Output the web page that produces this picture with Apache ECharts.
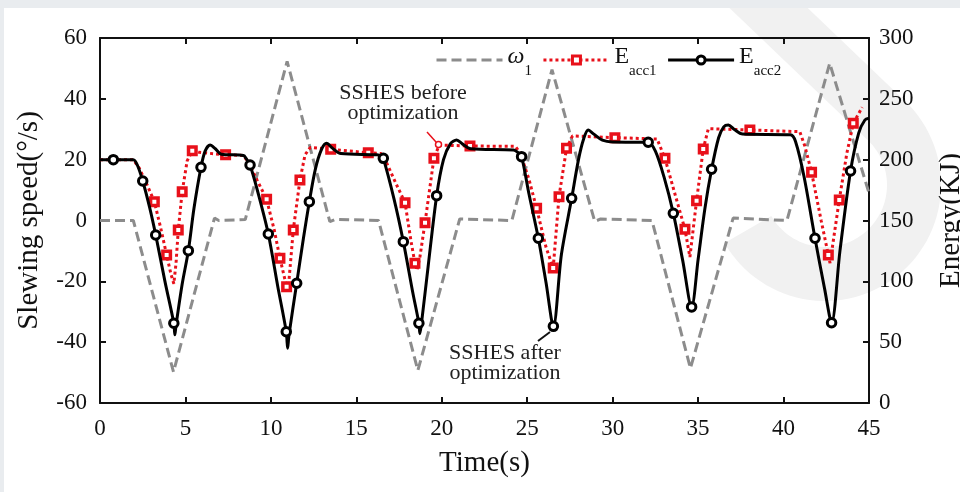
<!DOCTYPE html>
<html>
<head>
<meta charset="utf-8">
<script src="https://cdn.jsdelivr.net/npm/echarts/dist/echarts.min.js"></script>
<style>
  html, body { margin: 0; padding: 0; background: #e9ecef; }
  #chart { width: 960px; height: 492px; }
</style>
</head>
<body>
<div id="chart"></div>
<script>
// Axis ranges and tick steps
const timeRange = { min: 0, max: 45, step: 5 };
const speedRange = { min: -60, max: 60, step: 20 };
const energyRange = { min: 0, max: 300, step: 50 };

// Slewing speed ω1 (°/s) against time (s)
const omega1 = [
  [0, 0], [1.95, 0], [4.3, -49.8], [6.7, 0.8], [6.95, 0], [8.5, 0.3],
  [10.95, 52.3], [13.45, -0.4], [13.8, 0.4], [16.3, 0], [18.6, -49.3],
  [21.05, 0.5], [24.1, 0], [26.45, 49.6], [28.95, -0.3], [29.3, 0.5],
  [32.3, 0], [34.55, -48.6], [37.05, 0.8], [40.2, 0], [42.7, 51.7], [45, 9]
];

// Accumulator energy before optimization (KJ): [time, energy, marker]
const eAcc1 = [
  [0, 200, 0], [1.95, 200, 0], [2.3, 193, 0], [2.7, 181, 0], [3.18, 165.5, 1],
  [3.55, 144, 0], [3.9, 121.6, 1], [4.15, 106, 0], [4.32, 98, 0], [4.45, 115, 0],
  [4.58, 142.2, 1], [4.81, 173.7, 1], [5.1, 199, 0], [5.4, 207.4, 1], [5.8, 206, 0],
  [7.35, 204, 1], [8.4, 203.5, 0], [8.75, 196, 0], [9.2, 183, 0], [9.75, 167.4, 1],
  [10.2, 142, 0], [10.53, 118.9, 1], [10.92, 95.6, 1], [11.0, 91, 0], [11.31, 142.2, 1],
  [11.7, 183.3, 1], [12.0, 204, 0], [12.3, 210, 0], [13.5, 208.5, 1], [15.7, 205.7, 1],
  [16.45, 205, 0], [16.75, 198, 0], [17.3, 181, 0], [17.85, 164.6, 1], [18.2, 133, 0],
  [18.43, 114.8, 1], [18.55, 109, 0], [18.72, 120, 0], [19.02, 148.2, 1], [19.54, 201.1, 1],
  [19.85, 212, 0], [21.65, 211.2, 1], [24.3, 211, 0], [24.6, 205, 0], [25.1, 184, 0],
  [25.55, 160, 1], [26.1, 128, 0], [26.52, 111, 1], [26.86, 169.6, 1], [27.3, 209.3, 1],
  [27.65, 219.5, 0], [30.13, 218.1, 1], [32.6, 217, 0], [33.06, 201.1, 1], [33.6, 174, 0],
  [34.23, 142.8, 1], [34.52, 120, 0], [34.91, 166.3, 1], [35.3, 208.8, 1], [35.6, 225.5, 0],
  [38.03, 224.4, 1], [40.95, 223, 0], [41.25, 211, 0], [41.64, 189.6, 1], [42.2, 150, 0],
  [42.62, 121.6, 1], [42.72, 115, 0], [43.26, 166.9, 1], [43.7, 205, 0], [44.08, 229.9, 1],
  [44.6, 243, 0]
];

// Accumulator energy after optimization (KJ): [time, energy, marker]
const eAcc2 = [
  [0, 200, 0], [0.78, 200, 1], [1.95, 200, 0], [2.2, 195, 0], [2.5, 182.5, 1],
  [2.9, 161, 0], [3.26, 138.1, 1], [3.8, 100, 0], [4.32, 65.5, 1], [4.38, 56, 0],
  [4.45, 64, 0], [4.8, 97, 0], [5.17, 125.2, 1], [5.5, 160, 0], [5.91, 193.7, 1],
  [6.15, 207, 0], [6.44, 212, 0], [6.75, 209, 0], [7.1, 204.5, 0], [8.4, 203.5, 0],
  [8.55, 201, 0], [8.78, 195.6, 1], [9.3, 170, 0], [9.85, 138.9, 1], [10.4, 96, 0],
  [10.9, 58.6, 1], [10.98, 45, 0], [11.06, 56, 0], [11.51, 98.4, 1], [11.9, 135, 0],
  [12.25, 165.5, 1], [12.6, 192, 0], [12.95, 208, 0], [13.26, 213.4, 0], [13.6, 209.5, 0],
  [14.1, 205, 0], [16.2, 204, 0], [16.45, 203, 0], [16.58, 201.1, 1], [17.2, 168, 0],
  [17.75, 132.6, 1], [18.3, 91, 0], [18.66, 65.5, 1], [18.72, 57, 0], [18.8, 64, 0],
  [19.2, 112, 0], [19.7, 170.4, 1], [20.1, 200, 0], [20.5, 213, 0], [20.87, 216.2, 0],
  [21.2, 213, 0], [21.7, 209, 0], [24.2, 208, 0], [24.45, 206, 0], [24.67, 202.5, 1],
  [25.1, 172, 0], [25.65, 135.4, 1], [26.1, 99, 0], [26.53, 63, 1], [27.0, 122, 0],
  [27.6, 168.2, 1], [28.0, 200, 0], [28.3, 217, 0], [28.57, 224.4, 0], [28.9, 221, 0],
  [29.4, 216, 0], [30.0, 214.5, 0], [31.9, 214.3, 0], [32.08, 214.3, 1], [32.5, 207, 0],
  [33.0, 186, 0], [33.55, 155.9, 1], [34.1, 117, 0], [34.62, 79, 1], [35.0, 118, 0],
  [35.4, 160, 0], [35.79, 192.1, 1], [36.2, 218, 0], [36.5, 227, 0], [36.77, 228.5, 0],
  [37.1, 225, 0], [37.6, 221, 0], [40.4, 220.5, 0], [40.7, 215, 0], [41.2, 186, 0],
  [41.84, 135.4, 1], [42.4, 94, 0], [42.81, 66, 1], [43.3, 125, 0], [43.92, 190.7, 1],
  [44.4, 222, 0], [44.76, 232.6, 0], [45, 234, 0]
];

const SERIF = '"Liberation Serif", "Times New Roman", serif';
const INK = '#111';
const GRAY = '#8c8c8c';
const RED = '#e8101a';

const xy = p => [p[0], p[1]];
const marked = rows => rows.filter(p => p[2]).map(xy);

// Faint swoosh-shaped backdrop on the right: a ring segment with a straight tail running up to the top edge
function swooshOutline() {
  const cx = 825, cy = 185, rOut = 116, rIn = 62, top = 8;
  const a0 = -46.3 * Math.PI / 180, a1 = 150 * Math.PI / 180;
  const dir = [Math.cos(a0 + Math.PI / 2), Math.sin(a0 + Math.PI / 2)];
  const pts = [];
  const tailTop = r => {
    const px = cx + r * Math.cos(a0), py = cy + r * Math.sin(a0);
    const s = (py - top) / dir[1];
    return [px - s * dir[0], top];
  };
  pts.push(tailTop(rOut));
  for (let i = 0; i <= 60; i++) {
    const a = a0 + (a1 - a0) * i / 60;
    pts.push([cx + rOut * Math.cos(a), cy + rOut * Math.sin(a)]);
  }
  for (let i = 60; i >= 0; i--) {
    const a = a0 + (a1 - a0) * i / 60;
    pts.push([cx + rIn * Math.cos(a), cy + rIn * Math.sin(a)]);
  }
  pts.push(tailTop(rIn));
  return pts;
}

function valueAxis(range, extra) {
  return Object.assign({
    type: 'value',
    min: range.min,
    max: range.max,
    interval: range.step,
    splitLine: { show: false },
    axisLine: { show: true, onZero: false, lineStyle: { color: INK, width: 2 } },
    axisTick: { show: true, inside: true, length: 6, lineStyle: { color: INK, width: 2 } },
    axisLabel: { color: INK, fontSize: 23, fontFamily: SERIF },
    nameTextStyle: { color: INK, fontSize: 29, fontFamily: SERIF },
    nameLocation: 'middle'
  }, extra);
}

const chart = echarts.init(document.getElementById('chart'));

chart.setOption({
  animation: false,
  backgroundColor: '#e9ecef',
  grid: { left: 100, right: 91, top: 38, bottom: 89, outerBoundsMode: 'none' },
  xAxis: [
    valueAxis(timeRange, { position: 'bottom', name: 'Time(s)', nameGap: 46,
      axisLabel: { color: INK, fontSize: 23, fontFamily: SERIF, margin: 14 } }),
    valueAxis(timeRange, { position: 'top', axisLabel: { show: false } })
  ],
  yAxis: [
    valueAxis(speedRange, { position: 'left', name: 'Slewing speed(°/s)', nameGap: 56,
      axisLabel: { color: INK, fontSize: 23, fontFamily: SERIF, margin: 13 } }),
    valueAxis(energyRange, { position: 'right', name: 'Energy(KJ)', nameGap: 68,
      axisLabel: { color: INK, fontSize: 23, fontFamily: SERIF, margin: 10 } })
  ],
  legend: {
    left: 430,
    top: 40,
    itemWidth: 66,
    itemHeight: 10,
    itemGap: 10,
    selectedMode: false,
    lineStyle: { width: 3 },
    data: [
      { name: 'ω1', itemStyle: { opacity: 0 } },
      { name: 'Eacc1', itemStyle: { borderWidth: 3 } },
      { name: 'Eacc2', itemStyle: { borderWidth: 3 } }
    ],
    formatter: name => (name.charAt(0) === 'ω' ? '{w|ω}' : '{m|E}') + '{s|' + name.slice(1) + '}',
    textStyle: {
      color: INK,
      rich: {
        w: { fontSize: 24, fontFamily: SERIF, fontStyle: 'italic', color: INK, padding: [0, 0, 6, 0] },
        m: { fontSize: 24, fontFamily: SERIF, color: INK, padding: [0, 0, 6, 0] },
        s: { fontSize: 15, fontFamily: SERIF, color: INK, padding: [22, 0, 0, 0] }
      }
    }
  },
  graphic: [
    { type: 'rect', z: -100, silent: true, shape: { x: 4, y: 8, width: 956, height: 484 }, style: { fill: '#fff' } },
    { type: 'polygon', z: -90, silent: true, shape: { points: swooshOutline() }, style: { fill: '#f1f1f1' } },
    { type: 'text', z: 100, x: 403, y: 83, style: { text: 'SSHES before\noptimization', font: '22px ' + SERIF, fill: '#222', textAlign: 'center', lineHeight: 20 } },
    { type: 'line', z: 100, shape: { x1: 427, y1: 132, x2: 436, y2: 142 }, style: { stroke: RED, lineWidth: 1.5 } },
    { type: 'circle', z: 100, shape: { cx: 438.5, cy: 144.5, r: 3 }, style: { fill: '#fff', stroke: RED, lineWidth: 1.5 } },
    { type: 'text', z: 100, x: 505, y: 343, style: { text: 'SSHES after\noptimization', font: '22px ' + SERIF, fill: '#222', textAlign: 'center', lineHeight: 20 } },
    { type: 'line', z: 100, shape: { x1: 550, y1: 332, x2: 538, y2: 341 }, style: { stroke: INK, lineWidth: 2 } }
  ],
  series: [
    {
      name: 'ω1', type: 'line', xAxisIndex: 0, yAxisIndex: 0,
      data: omega1, symbol: 'none', z: 2,
      lineStyle: { color: GRAY, width: 3, type: [10, 5] },
      itemStyle: { color: GRAY },
      emphasis: { disabled: true }
    },
    {
      name: 'Eacc1', type: 'line', xAxisIndex: 0, yAxisIndex: 1,
      data: eAcc1.map(xy), symbol: 'rect', showSymbol: false, z: 3,
      lineStyle: { color: RED, width: 3, type: [3, 3] },
      itemStyle: { color: '#fff', borderColor: RED, borderWidth: 3 },
      emphasis: { disabled: true }
    },
    {
      name: 'Eacc1 markers', type: 'scatter', xAxisIndex: 0, yAxisIndex: 1,
      data: marked(eAcc1), symbol: 'rect', symbolSize: 7.5, z: 4,
      itemStyle: { color: '#fff', borderColor: RED, borderWidth: 3.5, opacity: 1 },
      emphasis: { disabled: true }
    },
    {
      name: 'Eacc2', type: 'line', xAxisIndex: 0, yAxisIndex: 1,
      data: eAcc2.map(xy), symbol: 'circle', showSymbol: false, smooth: 0.3, z: 5,
      lineStyle: { color: '#000', width: 3 },
      itemStyle: { color: '#fff', borderColor: '#000', borderWidth: 3 },
      emphasis: { disabled: true }
    },
    {
      name: 'Eacc2 markers', type: 'scatter', xAxisIndex: 0, yAxisIndex: 1,
      data: marked(eAcc2), symbol: 'circle', symbolSize: 8.5, z: 6,
      itemStyle: { color: '#fff', borderColor: '#000', borderWidth: 3, opacity: 1 },
      emphasis: { disabled: true }
    }
  ]
});
</script>
</body>
</html>
